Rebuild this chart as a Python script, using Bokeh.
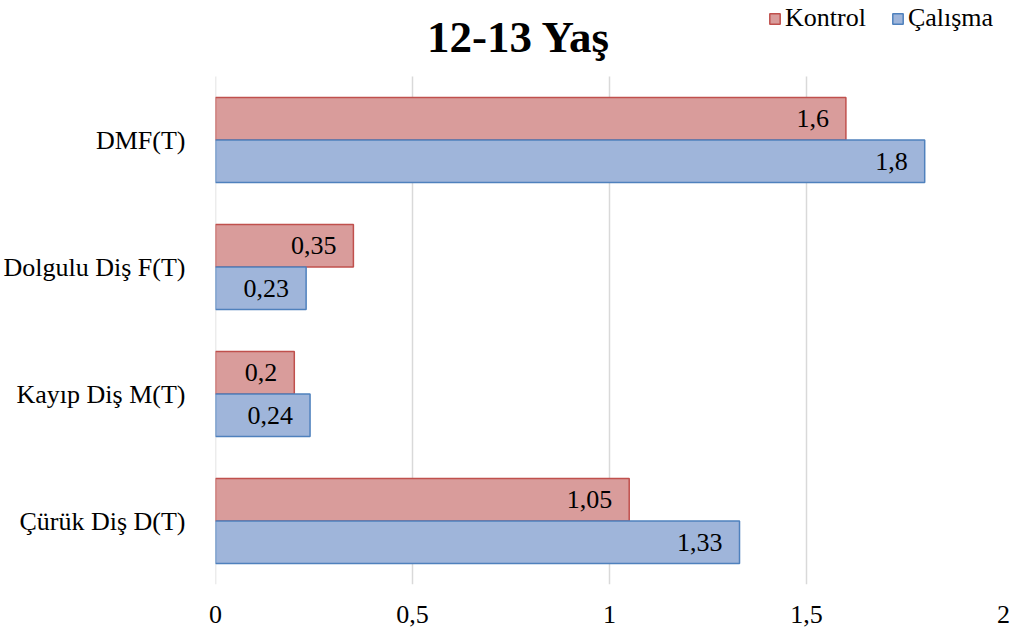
from bokeh.plotting import figure
from bokeh.models import (ColumnDataSource, Range1d, FixedTicker,
                          Legend, LegendItem, Label)
from bokeh.core.properties import value
from bokeh.embed import file_html
from bokeh.resources import INLINE

# ---- data ----
categories = ["Çürük Diş D(T)", "Kayıp Diş M(T)", "Dolgulu Diş F(T)", "DMF(T)"]
kontrol = [1.05, 0.2, 0.35, 1.6]
calisma = [1.33, 0.24, 0.23, 1.8]
series_names = ["Kontrol", "Çalışma"]
x_ticks = [0, 0.5, 1, 1.5, 2]
x_tick_labels = ["0", "0,5", "1", "1,5", "2"]
title_text = "12-13 Yaş"

X_MAX = 2
N = len(categories)
TOP_SPACE = 76 / 127.0          # room above the bars for title & legend
BAR_H = 0.335
OFF = 0.1675


def fmt(v):
    return str(v).replace(".", ",")


centers = [i + 0.5 for i in range(N)]
src = ColumnDataSource(dict(
    yk=[c + OFF for c in centers],
    yc=[c - OFF for c in centers],
    kontrol=kontrol,
    calisma=calisma,
    kontrol_lbl=[fmt(v) for v in kontrol],
    calisma_lbl=[fmt(v) for v in calisma],
))

FONT = "Liberation Serif"

p = figure(width=1011, height=628, output_backend="svg", toolbar_location=None,
           y_range=Range1d(0, N + TOP_SPACE), x_range=Range1d(0, X_MAX),
           min_border_left=213, min_border_right=8, min_border_top=0,
           min_border_bottom=44)
p.outline_line_color = None
p.background_fill_color = "white"
p.xgrid.grid_line_color = None
p.ygrid.grid_line_color = None

# grid lines limited to the bar area
grid_x = [t for t in x_ticks if t < X_MAX]
p.segment(x0=grid_x, y0=[0] * len(grid_x), x1=grid_x, y1=[N] * len(grid_x),
          line_color="#d9d9d9", line_width=1.5)

r_k = p.hbar(y="yk", left=0, right="kontrol", height=BAR_H, source=src,
             fill_color="#d99c9b", line_color="#c0504d", line_width=1.5)
r_c = p.hbar(y="yc", left=0, right="calisma", height=BAR_H, source=src,
             fill_color="#9fb5da", line_color="#4f81bd", line_width=1.5)

p.text(x="kontrol", y="yk", text="kontrol_lbl", source=src, x_offset=-17,
       text_align="right", text_baseline="middle", text_font=value(FONT),
       text_font_size="26px", text_color="black")
p.text(x="calisma", y="yc", text="calisma_lbl", source=src, x_offset=-17,
       text_align="right", text_baseline="middle", text_font=value(FONT),
       text_font_size="26px", text_color="black")

# axes
p.xaxis.ticker = FixedTicker(ticks=x_ticks)
p.xaxis.major_label_overrides = {t: l for t, l in zip(x_ticks, x_tick_labels)}
p.xaxis.axis_line_color = None
p.xaxis.major_tick_line_color = None
p.xaxis.minor_tick_line_color = None
p.xaxis.major_label_standoff = 15
p.xaxis.major_label_text_font = FONT
p.xaxis.major_label_text_font_size = "26px"
p.xaxis.major_label_text_color = "black"

p.yaxis.ticker = FixedTicker(ticks=centers)
p.yaxis.major_label_overrides = {c: n for c, n in zip(centers, categories)}
p.yaxis.axis_line_color = None
p.yaxis.major_tick_line_color = None
p.yaxis.minor_tick_line_color = None
p.yaxis.major_label_standoff = 24
p.yaxis.major_label_text_font = FONT
p.yaxis.major_label_text_font_size = "26px"
p.yaxis.major_label_text_color = "black"

# title
p.add_layout(Label(x=0.77, y=N + TOP_SPACE - 36 / 127.0, text=title_text,
                   text_align="center", text_baseline="alphabetic",
                   text_font=FONT, text_font_size="45px",
                   text_font_style="bold", text_color="black"))

legend = Legend(items=[LegendItem(label=series_names[0], renderers=[r_k]),
                       LegendItem(label=series_names[1], renderers=[r_c])],
                orientation="horizontal", location=(553, 551),
                glyph_width=13, glyph_height=13, label_height=30,
                label_standoff=4, spacing=25,
                padding=0, margin=0, border_line_color=None,
                background_fill_alpha=0, label_text_font=FONT,
                label_text_font_size="26px", label_text_color="black")
p.add_layout(legend)

open("out.html", "w").write(file_html(p, INLINE))
